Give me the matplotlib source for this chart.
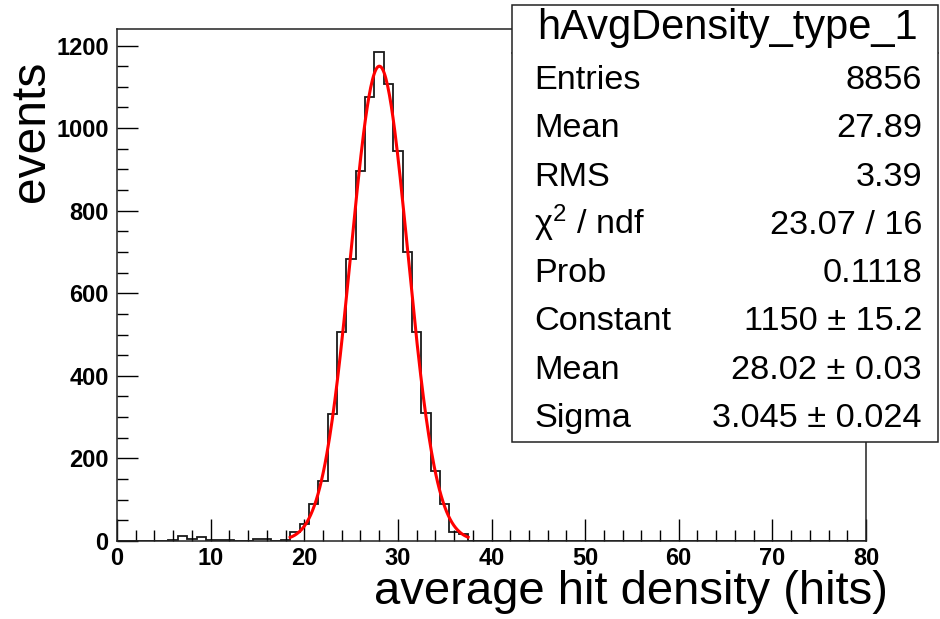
import matplotlib
matplotlib.use('Agg')
import matplotlib.pyplot as plt
import numpy as np
from matplotlib.patches import Rectangle
from matplotlib.lines import Line2D
from matplotlib.ticker import MultipleLocator

plt.rcParams['font.family'] = ['Liberation Sans', 'DejaVu Sans']
plt.rcParams['mathtext.fontset'] = 'custom'
plt.rcParams['mathtext.rm'] = 'Liberation Sans'
plt.rcParams['mathtext.it'] = 'Liberation Sans'

# histogram contents, bins of width 1 centred on integers
bin_centers = [6, 7, 8, 9, 10, 11, 12, 13, 15, 16, 17, 18,
               19, 20, 21, 22, 23, 24, 25, 26, 27, 28,
               29, 30, 31, 32, 33, 34, 35, 36, 37]
bin_counts = [2, 12, 4, 10, 3, 2, 2, 1, 6, 5, 1, 3,
              23, 40, 89, 145, 307, 505, 683, 897, 1075, 1184,
              1107, 945, 699, 505, 310, 170, 90, 22, 18]

# gaussian fit result from the stats box
fit_const = 1150
fit_mean = 28.02
fit_sigma = 3.045
fit_lo, fit_hi = 18.5, 37.5

stat_names = ['Entries', 'Mean', 'RMS', r'$\mathrm{\chi}^{2}$ / ndf', 'Prob',
              'Constant', 'Mean', 'Sigma']
stat_values = ['8856', '27.89', '3.39', '23.07 / 16', '0.1118',
               '1150 \u00b1 15.2', '28.02 \u00b1 0.03', '3.045 \u00b1 0.024']

W, H = 940, 619
fig = plt.figure(figsize=(W / 100, H / 100), dpi=100)
ax = fig.add_axes([117 / W, 1 - 541 / H, (866 - 117) / W, (541 - 29) / H])

edges = np.arange(-0.5, 81.0, 1.0)
counts = np.zeros(len(edges) - 1)
for c, n in zip(bin_centers, bin_counts):
    counts[c] = n
ax.stairs(counts, edges, baseline=0, color='#1a1a1a', lw=1.3)

xf = np.linspace(fit_lo, fit_hi, 200)
yf = fit_const * np.exp(-0.5 * ((xf - fit_mean) / fit_sigma) ** 2)
ax.plot(xf, yf, color='#ff0000', lw=2.2)

ax.set_xlim(0, 80)
ax.set_ylim(0, 1240)
ax.xaxis.set_major_locator(MultipleLocator(10))
ax.xaxis.set_minor_locator(MultipleLocator(2))
ax.yaxis.set_major_locator(MultipleLocator(200))
ax.yaxis.set_minor_locator(MultipleLocator(50))
ax.tick_params(axis='x', which='major', direction='in', length=16, width=1,
               labelsize=17, pad=4)
ax.tick_params(axis='x', which='minor', direction='in', length=8, width=1)
ax.tick_params(axis='y', which='major', direction='in', length=15, width=1,
               labelsize=17, pad=6)
ax.tick_params(axis='y', which='minor', direction='in', length=8, width=1)
for lbl in ax.get_xticklabels() + ax.get_yticklabels():
    lbl.set_fontweight('bold')
for sp in ax.spines.values():
    sp.set_linewidth(1.1)
    sp.set_color('#222222')

fig.text(888 / W, 1 - 604 / H, 'average hit density (hits)', ha='right',
         va='baseline', fontsize=34)
fig.text(44 / W, 1 - 61 / H, 'events', rotation=90, rotation_mode='anchor',
         ha='right', va='baseline', fontsize=34.5)

# stats box
fig.patches.append(Rectangle((512 / W, 1 - 442 / H), (938 - 512) / W, (442 - 5) / H,
                             transform=fig.transFigure, facecolor='white',
                             edgecolor='#222222', lw=1.1, zorder=2))
fig.lines.append(Line2D([512 / W, 938 / W], [1 - 53 / H, 1 - 53 / H],
                        transform=fig.transFigure, color='#222222', lw=1.1, zorder=2))
fig.text(727 / W, 1 - 39 / H, 'hAvgDensity_type_1', ha='center', va='baseline',
         fontsize=30, zorder=3)
for i, (name, val) in enumerate(zip(stat_names, stat_values)):
    yb = 1 - (89 + 48.3 * i) / H
    fig.text(534 / W, yb, name, ha='left', va='baseline', fontsize=24.7, zorder=3)
    fig.text(922 / W, yb, val, ha='right', va='baseline', fontsize=24.7, zorder=3)

fig.savefig('out.png', dpi=100)
